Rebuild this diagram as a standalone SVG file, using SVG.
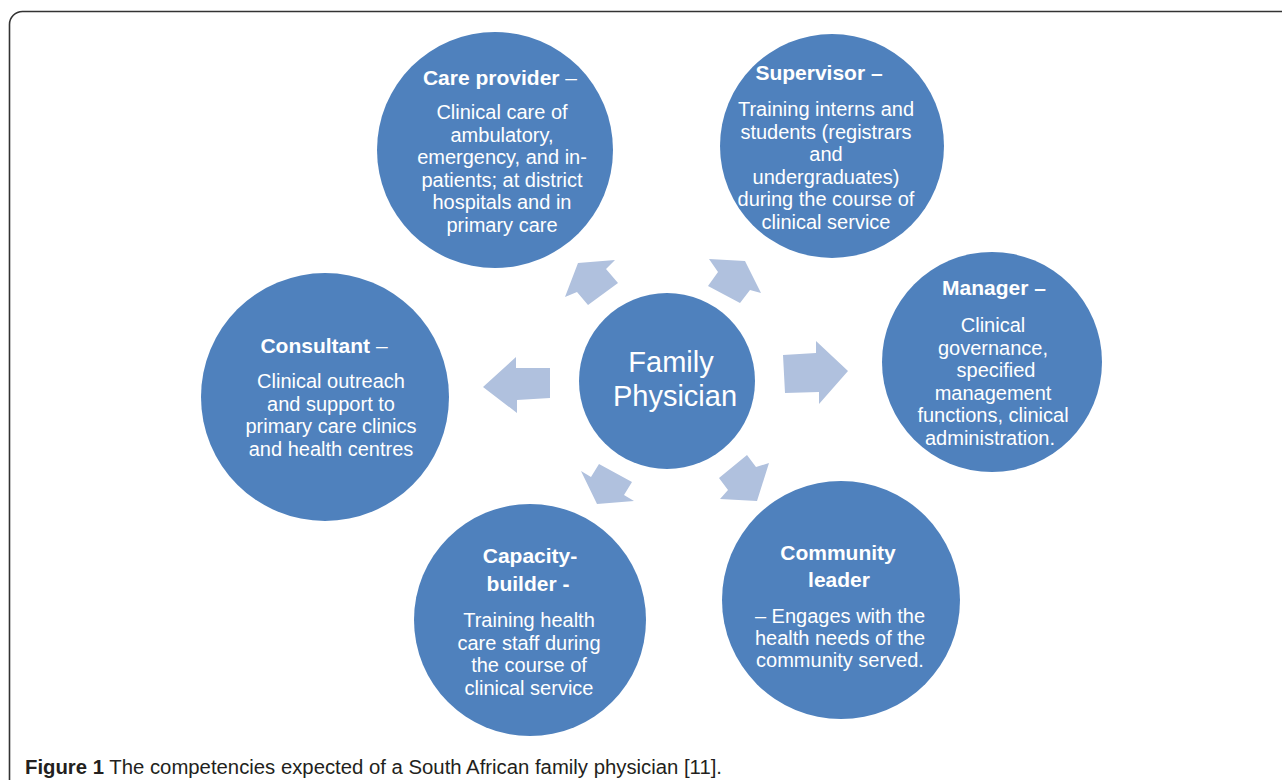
<svg xmlns="http://www.w3.org/2000/svg" width="1282" height="780" viewBox="0 0 1282 780">
<style>
.node{fill:#4F81BD}
.arr{fill:#B0C1DE}
.t{font-family:"Liberation Sans",Arial,sans-serif;fill:#FFFFFF;text-anchor:middle}
.b{font-size:20px}
.h{font-size:21px;font-weight:bold}
.n{font-weight:normal}
.cap{font-family:"Liberation Sans",Arial,sans-serif;font-size:19.5px;fill:#231F20}
</style>
<rect width="1282" height="780" fill="#FFFFFF"/>
<path d="M9.5,780 V24.5 A13,13 0 0 1 22.5,11.5 H1282" fill="none" stroke="#333333" stroke-width="1.6"/>
<g id="connectors">
<polygon class="arr" points="578,263 615,260 606,269 618,283 588,305 577,292 565,297"/>
<polygon class="arr" points="745,261 761,293 750,290 740,303 708,286 718,272 709,259"/>
<polygon class="arr" points="783,355 816,353 816,341 848,371 819,404 819,392 785,393"/>
<polygon class="arr" points="550,368 550,398 517,400 517,413 483,387 516,357 516,368"/>
<polygon class="arr" points="599,464 632,482 624,495 634,501 597,504 581,471 591,477"/>
<polygon class="arr" points="747,455 756,467 769,463 757,501 720,499 728,490 719,478"/>
</g>
<g id="center">
<circle class="node" cx="667" cy="381" r="88"/>
<text class="t" x="671" y="372" font-size="29">Family</text>
<text class="t" x="675" y="406" font-size="29">Physician</text>
</g>
<g id="care-provider">
<circle class="node" cx="495" cy="150" r="118"/>
<text class="t h" x="500" y="85">Care provider <tspan class="n">–</tspan></text>
<text class="t b" x="502" y="119">Clinical care of</text>
<text class="t b" x="502" y="141.5">ambulatory,</text>
<text class="t b" x="502" y="164">emergency, and in-</text>
<text class="t b" x="502" y="186.5">patients; at district</text>
<text class="t b" x="502" y="209">hospitals and in</text>
<text class="t b" x="502" y="231.5">primary care</text>
</g>
<g id="supervisor">
<circle class="node" cx="832" cy="146" r="112"/>
<text class="t h" x="819" y="80">Supervisor –</text>
<text class="t b" x="826" y="116">Training interns and</text>
<text class="t b" x="826" y="138.5">students (registrars</text>
<text class="t b" x="826" y="161">and</text>
<text class="t b" x="826" y="183.5">undergraduates)</text>
<text class="t b" x="826" y="206">during the course of</text>
<text class="t b" x="826" y="228.5">clinical service</text>
</g>
<g id="manager">
<circle class="node" cx="992" cy="362" r="110"/>
<text class="t h" x="994" y="295">Manager –</text>
<text class="t b" x="993" y="332">Clinical</text>
<text class="t b" x="993" y="354.5">governance,</text>
<text class="t b" x="996" y="377">specified</text>
<text class="t b" x="993" y="399.5">management</text>
<text class="t b" x="993" y="422">functions, clinical</text>
<text class="t b" x="990" y="444.5">administration.</text>
</g>
<g id="consultant">
<circle class="node" cx="325" cy="397" r="124"/>
<text class="t h" x="324" y="353">Consultant <tspan class="n">–</tspan></text>
<text class="t b" x="331" y="388">Clinical outreach</text>
<text class="t b" x="331" y="410.5">and support to</text>
<text class="t b" x="331" y="433">primary care clinics</text>
<text class="t b" x="331" y="455.5">and health centres</text>
</g>
<g id="capacity-builder">
<circle class="node" cx="530" cy="620" r="116"/>
<text class="t h" x="530" y="563">Capacity-</text>
<text class="t h" x="528" y="591">builder -</text>
<text class="t b" x="529" y="627">Training health</text>
<text class="t b" x="529" y="649.5">care staff during</text>
<text class="t b" x="529" y="672">the course of</text>
<text class="t b" x="529" y="694.5">clinical service</text>
</g>
<g id="community-leader">
<circle class="node" cx="841" cy="600" r="119"/>
<text class="t h" x="838" y="560">Community</text>
<text class="t h" x="839" y="587">leader</text>
<text class="t b" x="840" y="623">– Engages with the</text>
<text class="t b" x="840" y="645">health needs of the</text>
<text class="t b" x="840" y="667">community served.</text>
</g>
<text class="cap" x="25" y="774" textLength="697" lengthAdjust="spacingAndGlyphs"><tspan font-weight="bold">Figure 1</tspan> The competencies expected of a South African family physician [11].</text>
</svg>
